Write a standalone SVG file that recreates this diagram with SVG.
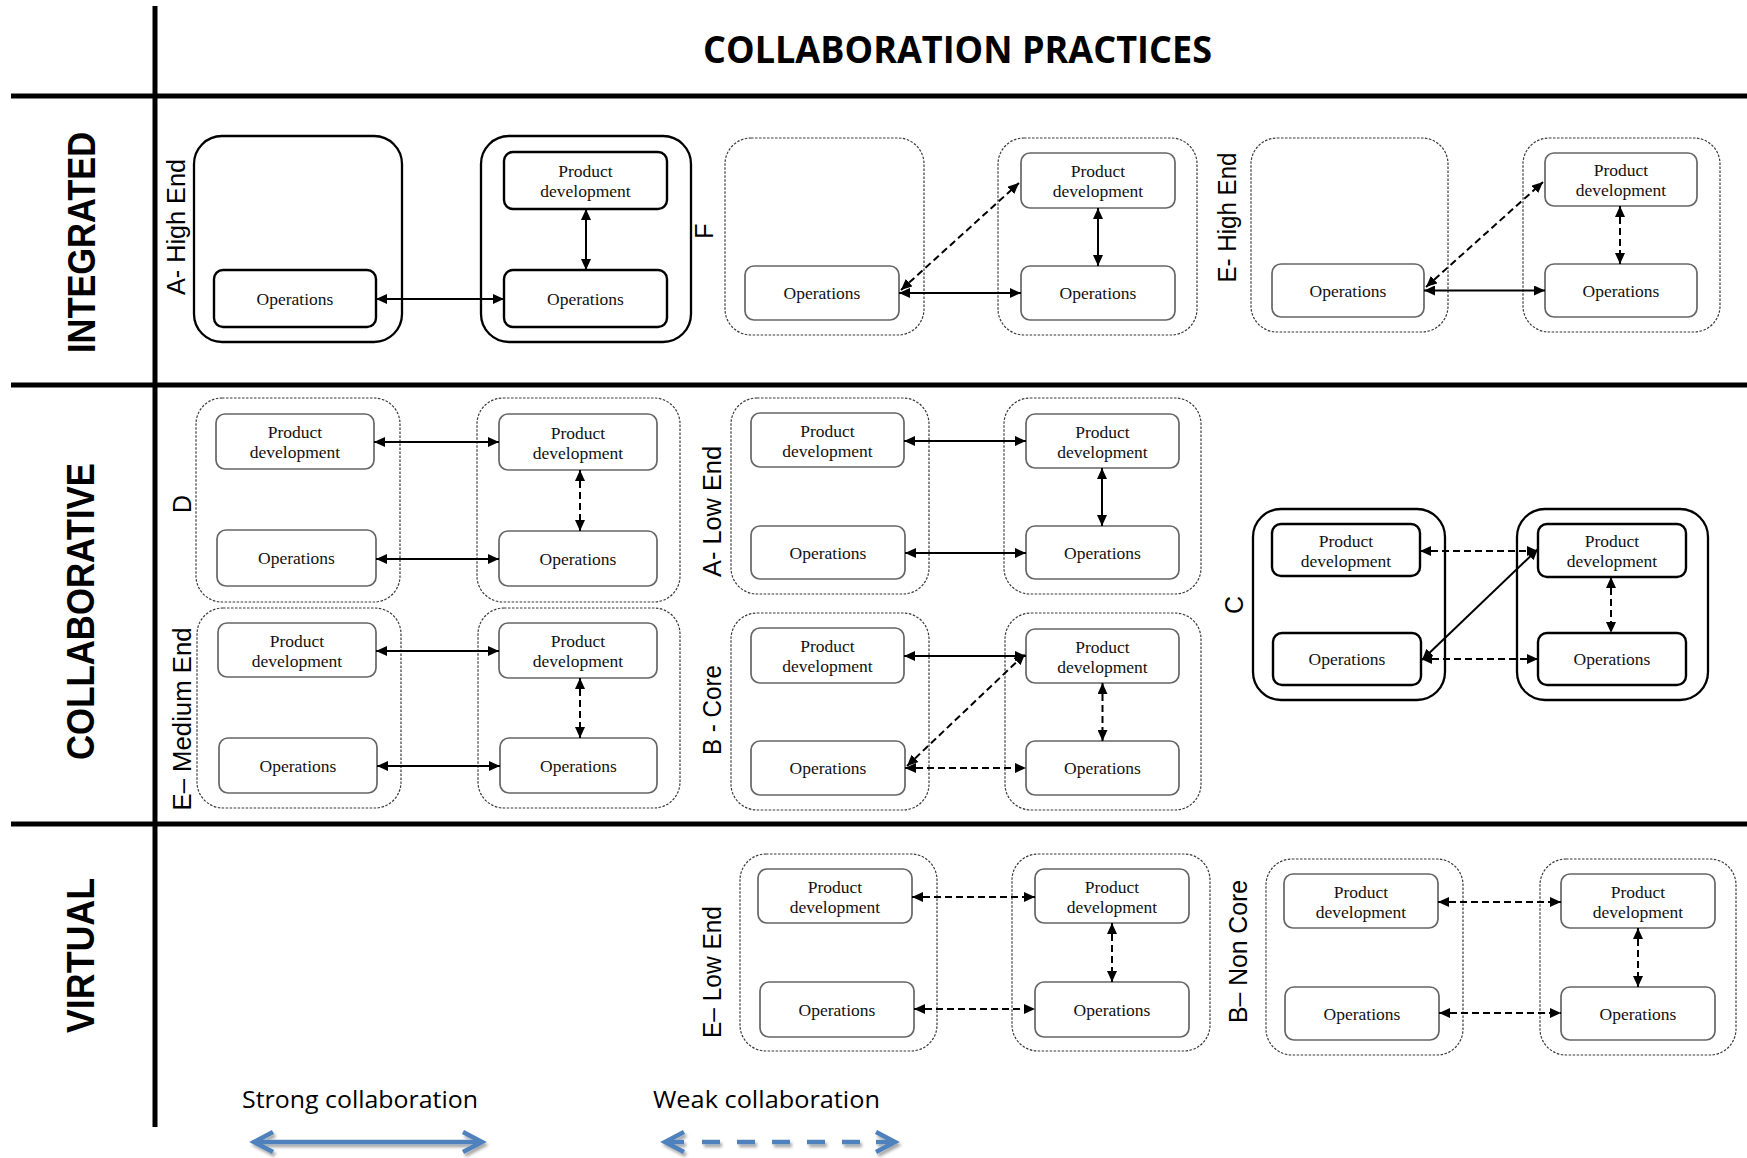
<svg xmlns="http://www.w3.org/2000/svg" width="1747" height="1158" viewBox="0 0 1747 1158">
  <style>
    .grid { stroke: #000; stroke-width: 5; fill: none; }
    .title { font-family: "Open Sans", "Liberation Sans", sans-serif; font-weight: 700; font-size: 37px; fill: #000; }
    .row { font-family: "Liberation Sans", Arial, sans-serif; font-weight: 700; font-size: 38px; fill: #000; text-anchor: middle; }
    .lbl { font-family: "Liberation Sans", Arial, sans-serif; font-size: 25px; fill: #000; text-anchor: middle; }
    .os { fill: none; stroke: #000; stroke-width: 2.3; }
    .od { fill: none; stroke: #3a3a3a; stroke-width: 1.2; stroke-dasharray: 2.5 1.5; }
    .is { fill: #fff; stroke: #000; stroke-width: 2.4; }
    .id { fill: #fff; stroke: #666; stroke-width: 1.7; }
    .bt { font-family: "Liberation Serif", "Times New Roman", serif; font-size: 17.5px; fill: #111; text-anchor: middle; }
    .c { fill: none; stroke: #000; stroke-width: 2; marker-start: url(#ah); marker-end: url(#ah); }
    .d { stroke-dasharray: 7 4; }
    .leg { font-family: "Open Sans", "Liberation Sans", sans-serif; font-size: 23px; fill: #000; }
    .blue { fill: none; stroke: #4f81bd; stroke-width: 4.5; }
  </style>
  <defs>
    <marker id="ah" viewBox="0 0 11 10" refX="11" refY="5" markerWidth="11" markerHeight="10" markerUnits="userSpaceOnUse" orient="auto-start-reverse">
      <path d="M0,0 L11,5 L0,10 z" fill="#000"/>
    </marker>
    <filter id="shadow" x="-10%" y="-50%" width="120%" height="200%">
      <feDropShadow dx="2" dy="3" stdDeviation="1.6" flood-color="#000" flood-opacity="0.35"/>
    </filter>
  </defs>

  <rect width="1747" height="1158" fill="#fff"/>

  <!-- table frame -->
  <g id="grid">
    <path class="grid" d="M155,6 V1127"/>
    <path class="grid" d="M11,96 H1747"/>
    <path class="grid" d="M11,385 H1747"/>
    <path class="grid" d="M11,824 H1747"/>
  </g>

  <text class="title" x="703" y="63" textLength="509" lengthAdjust="spacingAndGlyphs">COLLABORATION PRACTICES</text>

  <g id="row-labels">
    <text class="row" transform="translate(95,242.5) rotate(-90)" textLength="221" lengthAdjust="spacingAndGlyphs">INTEGRATED</text>
    <text class="row" transform="translate(94,611.5) rotate(-90)" textLength="297" lengthAdjust="spacingAndGlyphs">COLLABORATIVE</text>
    <text class="row" transform="translate(94,955.5) rotate(-90)" textLength="155" lengthAdjust="spacingAndGlyphs">VIRTUAL</text>
  </g>

  <!-- ===== INTEGRATED ===== -->
  <g id="a-high-end">
    <text class="lbl" transform="translate(185,227) rotate(-90)" textLength="136" lengthAdjust="spacingAndGlyphs">A- High End</text>
    <rect class="os" x="194" y="136" width="208" height="206" rx="28"/>
    <rect class="os" x="481" y="136" width="210" height="206" rx="28"/>
    <g id="ahe-ops1"><rect class="is" x="214" y="270" width="162" height="57" rx="9"/><text class="bt" x="295" y="304.5">Operations</text></g>
    <g id="ahe-pd2"><rect class="is" x="504" y="152" width="163" height="57" rx="9"/><text class="bt"><tspan x="585.5" y="177">Product</tspan><tspan x="585.5" y="197">development</tspan></text></g>
    <g id="ahe-ops2"><rect class="is" x="504" y="270" width="163" height="57" rx="9"/><text class="bt" x="585.5" y="304.5">Operations</text></g>
  </g>

  <g id="f">
    <text class="lbl" transform="translate(713,231) rotate(-90)">F</text>
    <rect class="od" x="725" y="138" width="199" height="197" rx="26"/>
    <rect class="od" x="998" y="138" width="199" height="197" rx="26"/>
    <g id="f-ops1"><rect class="id" x="745" y="266" width="154" height="54" rx="9"/><text class="bt" x="822" y="299">Operations</text></g>
    <g id="f-pd2"><rect class="id" x="1021" y="153" width="154" height="55" rx="9"/><text class="bt"><tspan x="1098" y="177">Product</tspan><tspan x="1098" y="197">development</tspan></text></g>
    <g id="f-ops2"><rect class="id" x="1021" y="266" width="154" height="54" rx="9"/><text class="bt" x="1098" y="299">Operations</text></g>
  </g>

  <g id="e-high-end">
    <text class="lbl" transform="translate(1236,217.5) rotate(-90)" textLength="130" lengthAdjust="spacingAndGlyphs">E- High End</text>
    <rect class="od" x="1251" y="138" width="197" height="194" rx="26"/>
    <rect class="od" x="1523" y="138" width="197" height="194" rx="26"/>
    <g id="ehe-ops1"><rect class="id" x="1272" y="264" width="152" height="53" rx="9"/><text class="bt" x="1348" y="296.5">Operations</text></g>
    <g id="ehe-pd2"><rect class="id" x="1545" y="153" width="152" height="53" rx="9"/><text class="bt"><tspan x="1621" y="176">Product</tspan><tspan x="1621" y="196">development</tspan></text></g>
    <g id="ehe-ops2"><rect class="id" x="1545" y="264" width="152" height="53" rx="9"/><text class="bt" x="1621" y="296.5">Operations</text></g>
  </g>

  <!-- ===== COLLABORATIVE ===== -->
  <g id="d">
    <text class="lbl" transform="translate(191,504) rotate(-90)">D</text>
    <rect class="od" x="196" y="398" width="204" height="204" rx="26"/>
    <rect class="od" x="477" y="398" width="203" height="204" rx="26"/>
    <g id="d-pd1"><rect class="id" x="216" y="414" width="158" height="55" rx="9"/><text class="bt"><tspan x="295" y="438">Product</tspan><tspan x="295" y="458">development</tspan></text></g>
    <g id="d-ops1"><rect class="id" x="217" y="530" width="159" height="56" rx="9"/><text class="bt" x="296.5" y="564">Operations</text></g>
    <g id="d-pd2"><rect class="id" x="499" y="414" width="158" height="56" rx="9"/><text class="bt"><tspan x="578" y="438.5">Product</tspan><tspan x="578" y="458.5">development</tspan></text></g>
    <g id="d-ops2"><rect class="id" x="499" y="531" width="158" height="55" rx="9"/><text class="bt" x="578" y="564.5">Operations</text></g>
  </g>

  <g id="e-medium-end">
    <text class="lbl" transform="translate(191,719) rotate(-90)" textLength="183" lengthAdjust="spacingAndGlyphs">E– Medium End</text>
    <rect class="od" x="197" y="608" width="204" height="200" rx="26"/>
    <rect class="od" x="478" y="608" width="202" height="200" rx="26"/>
    <g id="eme-pd1"><rect class="id" x="218" y="623" width="158" height="54" rx="9"/><text class="bt"><tspan x="297" y="646.5">Product</tspan><tspan x="297" y="666.5">development</tspan></text></g>
    <g id="eme-ops1"><rect class="id" x="219" y="738" width="158" height="55" rx="9"/><text class="bt" x="298" y="771.5">Operations</text></g>
    <g id="eme-pd2"><rect class="id" x="499" y="623" width="158" height="55" rx="9"/><text class="bt"><tspan x="578" y="647">Product</tspan><tspan x="578" y="667">development</tspan></text></g>
    <g id="eme-ops2"><rect class="id" x="500" y="738" width="157" height="55" rx="9"/><text class="bt" x="578.5" y="771.5">Operations</text></g>
  </g>

  <g id="a-low-end">
    <text class="lbl" transform="translate(721,511.5) rotate(-90)" textLength="131" lengthAdjust="spacingAndGlyphs">A- Low End</text>
    <rect class="od" x="731" y="398" width="198" height="196" rx="26"/>
    <rect class="od" x="1004" y="398" width="197" height="196" rx="26"/>
    <g id="ale-pd1"><rect class="id" x="751" y="413" width="153" height="54" rx="9"/><text class="bt"><tspan x="827.5" y="436.5">Product</tspan><tspan x="827.5" y="456.5">development</tspan></text></g>
    <g id="ale-ops1"><rect class="id" x="751" y="526" width="154" height="53" rx="9"/><text class="bt" x="828" y="558.5">Operations</text></g>
    <g id="ale-pd2"><rect class="id" x="1026" y="414" width="153" height="54" rx="9"/><text class="bt"><tspan x="1102.5" y="437.5">Product</tspan><tspan x="1102.5" y="457.5">development</tspan></text></g>
    <g id="ale-ops2"><rect class="id" x="1026" y="526" width="153" height="53" rx="9"/><text class="bt" x="1102.5" y="558.5">Operations</text></g>
  </g>

  <g id="b-core">
    <text class="lbl" transform="translate(721,710) rotate(-90)" textLength="90" lengthAdjust="spacingAndGlyphs">B - Core</text>
    <rect class="od" x="731" y="613" width="198" height="197" rx="26"/>
    <rect class="od" x="1005" y="613" width="196" height="197" rx="26"/>
    <g id="bc-pd1"><rect class="id" x="751" y="628" width="153" height="55" rx="9"/><text class="bt"><tspan x="827.5" y="652">Product</tspan><tspan x="827.5" y="672">development</tspan></text></g>
    <g id="bc-ops1"><rect class="id" x="751" y="741" width="154" height="54" rx="9"/><text class="bt" x="828" y="774">Operations</text></g>
    <g id="bc-pd2"><rect class="id" x="1026" y="629" width="153" height="54" rx="9"/><text class="bt"><tspan x="1102.5" y="652.5">Product</tspan><tspan x="1102.5" y="672.5">development</tspan></text></g>
    <g id="bc-ops2"><rect class="id" x="1026" y="741" width="153" height="54" rx="9"/><text class="bt" x="1102.5" y="774">Operations</text></g>
  </g>

  <g id="c">
    <text class="lbl" transform="translate(1243,605) rotate(-90)">C</text>
    <rect class="os" x="1253" y="509" width="192" height="191" rx="28"/>
    <rect class="os" x="1517" y="509" width="191" height="191" rx="28"/>
    <g id="c-pd1"><rect class="is" x="1272" y="524" width="148" height="52" rx="9"/><text class="bt"><tspan x="1346" y="546.5">Product</tspan><tspan x="1346" y="566.5">development</tspan></text></g>
    <g id="c-ops1"><rect class="is" x="1273" y="633" width="148" height="52" rx="9"/><text class="bt" x="1347" y="665">Operations</text></g>
    <g id="c-pd2"><rect class="is" x="1538" y="524" width="148" height="53" rx="9"/><text class="bt"><tspan x="1612" y="547">Product</tspan><tspan x="1612" y="567">development</tspan></text></g>
    <g id="c-ops2"><rect class="is" x="1538" y="633" width="148" height="52" rx="9"/><text class="bt" x="1612" y="665">Operations</text></g>
  </g>

  <!-- ===== VIRTUAL ===== -->
  <g id="e-low-end">
    <text class="lbl" transform="translate(721,972) rotate(-90)" textLength="132" lengthAdjust="spacingAndGlyphs">E– Low End</text>
    <rect class="od" x="740" y="854" width="197" height="197" rx="26"/>
    <rect class="od" x="1012" y="854" width="198" height="197" rx="26"/>
    <g id="ele-pd1"><rect class="id" x="758" y="869" width="154" height="54" rx="9"/><text class="bt"><tspan x="835" y="892.5">Product</tspan><tspan x="835" y="912.5">development</tspan></text></g>
    <g id="ele-ops1"><rect class="id" x="760" y="982" width="154" height="55" rx="9"/><text class="bt" x="837" y="1015.5">Operations</text></g>
    <g id="ele-pd2"><rect class="id" x="1035" y="869" width="154" height="54" rx="9"/><text class="bt"><tspan x="1112" y="892.5">Product</tspan><tspan x="1112" y="912.5">development</tspan></text></g>
    <g id="ele-ops2"><rect class="id" x="1035" y="982" width="154" height="55" rx="9"/><text class="bt" x="1112" y="1015.5">Operations</text></g>
  </g>

  <g id="b-non-core">
    <text class="lbl" transform="translate(1247,951.5) rotate(-90)" textLength="143" lengthAdjust="spacingAndGlyphs">B– Non Core</text>
    <rect class="od" x="1266" y="859" width="197" height="196" rx="26"/>
    <rect class="od" x="1540" y="859" width="196" height="196" rx="26"/>
    <g id="bnc-pd1"><rect class="id" x="1284" y="874" width="154" height="54" rx="9"/><text class="bt"><tspan x="1361" y="897.5">Product</tspan><tspan x="1361" y="917.5">development</tspan></text></g>
    <g id="bnc-ops1"><rect class="id" x="1285" y="987" width="154" height="53" rx="9"/><text class="bt" x="1362" y="1019.5">Operations</text></g>
    <g id="bnc-pd2"><rect class="id" x="1561" y="874" width="154" height="54" rx="9"/><text class="bt"><tspan x="1638" y="897.5">Product</tspan><tspan x="1638" y="917.5">development</tspan></text></g>
    <g id="bnc-ops2"><rect class="id" x="1561" y="987" width="154" height="53" rx="9"/><text class="bt" x="1638" y="1019.5">Operations</text></g>
  </g>

  <!-- links between units -->
  <g id="connectors">
    <!-- A- High End -->
    <path class="c" d="M376,299 L504,299"/>
    <path class="c" d="M586,209 L586,270"/>
    <!-- F -->
    <path class="c" d="M899,293 L1021,293"/>
    <path class="c d" d="M901,290 L1019,183"/>
    <path class="c" d="M1098,208 L1098,266"/>
    <!-- E- High End -->
    <path class="c" d="M1424,290.5 L1545,290.5"/>
    <path class="c d" d="M1426,287 L1543,182"/>
    <path class="c d" d="M1620,206 L1620,264"/>
    <!-- D -->
    <path class="c" d="M374,442 L499,442"/>
    <path class="c" d="M376,559 L499,559"/>
    <path class="c d" d="M580,470 L580,531"/>
    <!-- E- Medium End -->
    <path class="c" d="M376,651 L499,651"/>
    <path class="c" d="M377,766 L500,766"/>
    <path class="c d" d="M580,678 L580,738"/>
    <!-- A- Low End -->
    <path class="c" d="M904,441 L1026,441"/>
    <path class="c" d="M905,553 L1026,553"/>
    <path class="c" d="M1102,468 L1102,526"/>
    <!-- B - Core -->
    <path class="c" d="M904,656 L1026,656"/>
    <path class="c d" d="M907,766 L1025,654"/>
    <path class="c d" d="M905,768 L1026,768"/>
    <path class="c d" d="M1102.5,683 L1102.5,741"/>
    <!-- C -->
    <path class="c d" d="M1420,551 L1538,551"/>
    <path class="c" d="M1422,660 L1538,549"/>
    <path class="c d" d="M1421,659 L1538,659"/>
    <path class="c d" d="M1611,577 L1611,633"/>
    <!-- E- Low End -->
    <path class="c d" d="M912,897 L1035,897"/>
    <path class="c d" d="M914,1009 L1035,1009"/>
    <path class="c d" d="M1112,923 L1112,982"/>
    <!-- B- Non Core -->
    <path class="c d" d="M1438,902 L1561,902"/>
    <path class="c d" d="M1439,1013 L1561,1013"/>
    <path class="c d" d="M1638,928 L1638,987"/>
  </g>

  <!-- key -->
  <g id="legend">
    <text class="leg" x="242" y="1108" textLength="236" lengthAdjust="spacingAndGlyphs">Strong collaboration</text>
    <text class="leg" x="653" y="1108" textLength="227" lengthAdjust="spacingAndGlyphs">Weak collaboration</text>
    <g filter="url(#shadow)">
      <path class="blue" d="M255,1142 H480"/>
      <path class="blue" stroke-width="5" d="M273,1132 L254,1142 L273,1152"/>
      <path class="blue" stroke-width="5" d="M463,1132 L482,1142 L463,1152"/>
    </g>
    <g filter="url(#shadow)">
      <path class="blue" d="M666,1142 H684 M702,1142 H720 M737,1142 H755 M772,1142 H790 M807,1142 H825 M842,1142 H860 M876,1142 H893"/>
      <path class="blue" stroke-width="5" d="M684,1132 L665,1142 L684,1152"/>
      <path class="blue" stroke-width="5" d="M876,1132 L895,1142 L876,1152"/>
    </g>
  </g>
</svg>
